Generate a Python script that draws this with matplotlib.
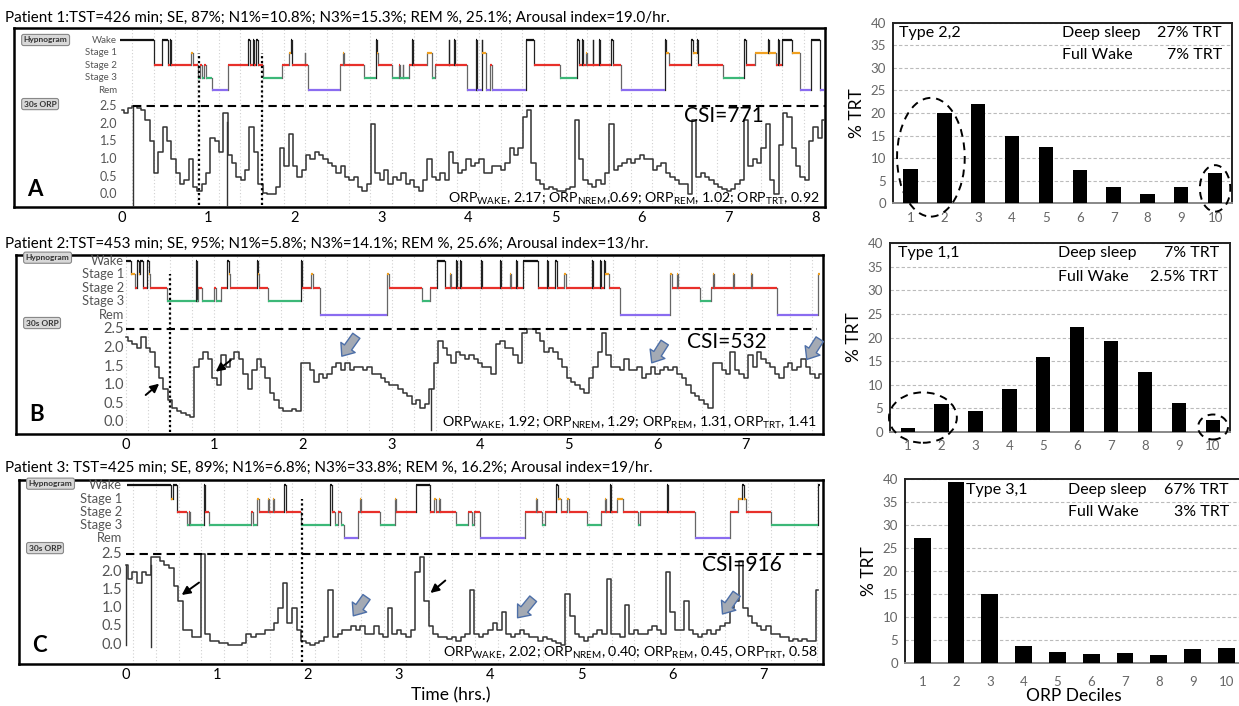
import numpy as np
import matplotlib.pyplot as plt
from matplotlib.patches import Ellipse

plt.rcParams['font.family'] = ['Lato', 'DejaVu Sans']
plt.rcParams['mathtext.fontset'] = 'custom'
plt.rcParams['mathtext.rm'] = 'Lato'
plt.rcParams['mathtext.it'] = 'Lato:italic'

# ---------------- data ----------------
titles = [
    "Patient 1:TST=426 min; SE, 87%; N1%=10.8%; N3%=15.3%; REM %, 25.1%; Arousal index=19.0/hr.",
    "Patient 2:TST=453 min; SE, 95%; N1%=5.8%; N3%=14.1%; REM %, 25.6%; Arousal index=13/hr.",
    "Patient 3: TST=425 min; SE, 89%; N1%=6.8%; N3%=33.8%; REM %, 16.2%; Arousal index=19/hr.",
]
csi_labels = ["CSI=771", "CSI=532", "CSI=916"]
orp_stats = [
    r"ORP$_{\mathrm{WAKE}}$, 2.17; ORP$_{\mathrm{NREM}}$,0.69; ORP$_{\mathrm{REM}}$, 1.02; ORP$_{\mathrm{TRT}}$, 0.92",
    r"ORP$_{\mathrm{WAKE}}$, 1.92; ORP$_{\mathrm{NREM}}$, 1.29; ORP$_{\mathrm{REM}}$, 1.31, ORP$_{\mathrm{TRT}}$, 1.41",
    r"ORP$_{\mathrm{WAKE}}$, 2.02; ORP$_{\mathrm{NREM}}$, 0.40; ORP$_{\mathrm{REM}}$, 0.45, ORP$_{\mathrm{TRT}}$, 0.58",
]

# hypnograms: (start hr, stage)
hyp_a = [(-0.02, 'W'), (0.37, '2'), (0.47, 'W'), (0.53, '2'), (0.56, 'W'), (0.57, '2'), (0.80, '1'),
         (0.82, '2'), (0.88, '3'), (0.91, '2'), (0.93, '3'), (0.95, '2'), (0.97, '3'), (1.04, 'R'),
         (1.23, '2'), (1.46, 'W'), (1.48, '2'), (1.51, 'W'), (1.53, '2'), (1.55, 'W'), (1.57, '2'),
         (1.63, '3'), (1.85, '2'), (1.93, '1'), (1.95, 'W'), (1.97, '2'), (2.11, '1'), (2.12, '2'),
         (2.15, 'R'), (2.52, '2'), (2.55, '1'), (2.57, '2'), (2.79, '3'), (2.93, 'W'), (2.95, '1'),
         (2.96, '2'), (3.12, '3'), (3.20, '2'), (3.21, '3'), (3.24, '2'), (3.25, '3'), (3.31, '2'),
         (3.35, 'W'), (3.36, '2'), (3.52, '1'), (3.58, '3'), (3.61, '2'), (3.77, 'W'), (3.78, '2'),
         (3.83, 'W'), (3.84, '2'), (3.98, 'R'), (4.09, 'W'), (4.10, 'R'), (4.15, 'W'), (4.16, '1'),
         (4.20, 'R'), (4.25, '2'), (4.27, 'R'), (4.66, 'W'), (4.76, '2'), (5.06, '3'), (5.25, 'W'),
         (5.27, '2'), (5.31, 'W'), (5.32, '2'), (5.36, '1'), (5.37, '2'), (5.43, 'W'), (5.44, '2'),
         (5.51, 'W'), (5.52, '2'), (5.64, 'W'), (5.67, '2'), (5.76, 'R'), (6.26, 'W'), (6.28, '1'),
         (6.31, '2'), (6.57, 'W'), (6.59, '1'), (6.63, 'W'), (6.65, '2'), (6.93, '3'), (7.18, 'W'),
         (7.20, '2'), (7.30, '1'), (7.45, 'W'), (7.47, '1'), (7.55, '2'), (7.57, 'W'), (7.58, '2'),
         (7.61, 'W'), (7.73, '1'), (7.82, 'R'), (7.95, 'W'), (8.05, 'R')]
hyp_b = [(0.0, 'W'), (0.06, '1'), (0.10, '2'), (0.13, 'W'), (0.15, '1'), (0.16, 'W'), (0.19, '2'),
         (0.24, 'W'), (0.26, '1'), (0.27, '2'), (0.46, '3'), (0.79, 'W'), (0.80, '3'), (0.81, '2'),
         (0.86, '3'), (1.00, '2'), (1.02, '3'), (1.07, '2'), (1.14, 'W'), (1.16, '1'), (1.18, '2'),
         (1.48, 'W'), (1.49, '1'), (1.50, '2'), (1.61, '3'), (1.98, 'W'), (1.99, '2'), (2.09, '1'),
         (2.11, '2'), (2.19, 'R'), (2.95, '1'), (2.97, '2'), (3.34, '3'), (3.43, '2'), (3.51, 'W'),
         (3.60, '2'), (3.66, '1'), (3.67, '2'), (3.73, 'W'), (3.74, '2'), (3.77, 'W'), (3.78, '2'),
         (4.01, 'W'), (4.02, '2'), (4.22, 'W'), (4.23, '2'), (4.34, '1'), (4.35, '2'), (4.41, 'W'),
         (4.42, '2'), (4.48, 'W'), (4.65, '2'), (4.75, 'W'), (4.76, '2'), (4.84, 'W'), (4.87, '2'),
         (4.95, '1'), (4.97, '2'), (5.26, 'W'), (5.27, '2'), (5.35, 'W'), (5.36, '2'), (5.40, 'W'),
         (5.41, '1'), (5.45, '2'), (5.58, 'R'), (6.14, '1'), (6.16, '2'), (6.22, '1'), (6.23, '2'),
         (6.48, '3'), (6.61, '2'), (6.63, '1'), (6.64, '2'), (6.85, '1'), (6.86, '2'), (7.06, '1'),
         (7.07, '2'), (7.35, 'R'), (7.81, '1')]
hyp_c = [(0.02, 'W'), (0.50, '1'), (0.52, 'W'), (0.56, '2'), (0.67, '3'), (0.70, '2'), (0.71, '3'),
         (0.86, 'W'), (0.87, '2'), (0.91, '3'), (1.37, '2'), (1.40, '3'), (1.44, '1'), (1.46, '2'),
         (1.56, '1'), (1.57, '2'), (1.62, '1'), (1.63, '2'), (1.74, 'W'), (1.76, '2'), (1.92, '3'),
         (2.24, 'W'), (2.26, '2'), (2.30, '3'), (2.33, '2'), (2.36, '3'), (2.40, 'R'), (2.55, '2'),
         (2.57, '1'), (2.58, '2'), (2.79, '3'), (2.95, '1'), (2.97, '2'), (3.19, 'W'), (3.34, '2'),
         (3.38, '1'), (3.40, '2'), (3.44, '1'), (3.45, '2'), (3.62, '3'), (3.76, '2'), (3.80, '3'),
         (3.82, '2'), (3.89, 'R'), (4.38, '2'), (4.50, '1'), (4.51, '2'), (4.57, '3'), (4.60, '2'),
         (4.72, 'W'), (4.74, '1'), (4.78, '2'), (4.84, '1'), (4.86, '2'), (5.06, '3'), (5.22, '2'),
         (5.26, '1'), (5.27, '2'), (5.31, 'W'), (5.32, '2'), (5.39, '1'), (5.46, '2'), (5.62, '3'),
         (5.64, '2'), (5.94, 'W'), (5.95, '2'), (6.25, 'R'), (6.63, '2'), (6.72, '1'), (6.76, 'W'),
         (6.78, '1'), (6.80, '2'), (7.08, '3'), (7.60, 'W')]
hyp_end = [8.10, 7.84, 7.62]

# 30 s ORP, read every 0.05 h from t = 0
orp_a = [2.4, 2.3, 2.45, 2.5, 2.45, 2.4, 2.1, 1.5, 0.6, 1.2, 1.9, 1.5, 1.0, 0.6, 0.3, 0.4, 1.0, 0.2,
         0.1, 0.3, 0.6, 1.6, 1.5, 1.2, 2.3, 1.1, 0.9, 0.5, 0.4, 0.7, 1.9, 1.2, 0.3, 0.05, 0.0, 0.0,
         0.2, 1.3, 0.8, 1.7, 0.8, 0.5, 0.7, 1.1, 1.0, 1.2, 1.1, 1.0, 0.9, 0.8, 0.6, 0.8, 0.5, 0.4,
         0.5, 0.2, 0.1, 0.3, 2.0, 0.6, 0.4, 0.7, 0.3, 0.5, 0.4, 0.6, 0.3, 0.4, 0.2, 0.1, 0.4, 1.0,
         0.5, 0.4, 0.6, 0.4, 1.2, 0.9, 0.6, 0.7, 1.0, 0.8, 0.9, 1.0, 0.6, 0.6, 0.8, 0.8, 0.7, 0.9,
         1.3, 1.1, 1.3, 2.2, 2.4, 0.9, 0.4, 0.3, 0.15, 0.2, 0.15, 0.1, 0.1, 0.15, 0.2, 2.1, 1.0,
         0.4, 0.3, 0.2, 0.4, 0.3, 0.6, 2.0, 0.7, 0.8, 0.9, 1.0, 0.9, 1.0, 1.1, 1.0, 1.0, 0.7, 0.8,
         0.9, 0.6, 0.5, 0.4, 0.3, 0.3, 0.0, 2.1, 0.5, 0.6, 0.5, 0.4, 0.3, 0.2, 0.15, 0.1, 0.15,
         0.3, 0.4, 2.1, 0.8, 1.0, 0.9, 1.3, 2.0, 0.4, 0.0, 1.4, 2.3, 2.2, 1.3, 0.8, 0.5, 0.4, 1.5,
         1.9, 1.6, 2.1]
orp_b = [2.3, 2.2, 2.1, 2.0, 2.3, 2.0, 1.9, 1.5, 1.2, 0.9, 0.6, 0.4, 0.3, 0.25, 0.2, 0.15, 1.5,
         1.7, 1.9, 1.7, 1.2, 1.0, 1.8, 1.5, 1.7, 1.9, 1.7, 1.3, 0.9, 1.4, 1.7, 1.5, 1.2, 0.8, 0.6,
         0.4, 0.3, 0.3, 0.35, 0.3, 1.6, 1.6, 1.4, 1.1, 1.3, 1.2, 1.3, 1.5, 1.6, 1.4, 1.6, 1.4, 1.5,
         1.5, 1.4, 1.5, 1.3, 1.3, 1.2, 1.1, 1.0, 1.0, 0.9, 0.8, 0.7, 0.5, 0.6, 0.4, 0.5, 0.9, 1.6,
         2.2, 2.0, 1.8, 1.6, 1.9, 1.8, 1.7, 1.8, 1.7, 1.6, 1.5, 1.5, 1.3, 2.1, 2.2, 2.0, 2.0, 1.8,
         1.6, 2.4, 2.5, 2.5, 2.4, 2.2, 1.9, 2.0, 1.9, 1.7, 1.5, 1.2, 1.1, 1.0, 0.9, 0.8, 1.2, 1.5,
         1.9, 2.4, 1.8, 1.5, 1.5, 1.4, 1.7, 1.4, 1.4, 1.5, 1.2, 1.3, 1.5, 1.3, 1.4, 1.5, 1.4, 1.5,
         1.3, 1.2, 1.0, 0.8, 0.7, 0.6, 0.5, 0.4, 1.6, 1.6, 1.4, 1.3, 1.9, 1.4, 1.3, 1.2, 1.8, 1.5,
         1.9, 1.7, 1.6, 1.5, 1.3, 1.2, 1.5, 1.6, 1.4, 1.5, 1.7, 1.5, 1.3, 1.2, 1.3]
orp_c = [2.2, 1.8, 2.0, 1.7, 2.0, 1.9, 2.4, 2.4, 2.3, 2.2, 2.1, 1.6, 1.2, 0.4, 0.4, 0.2, 0.2, 2.5,
         0.3, 0.1, 0.1, 0.05, 0.05, 0.0, 0.0, 0.0, 0.05, 0.3, 0.2, 0.3, 0.3, 0.4, 0.4, 0.6, 1.0,
         1.7, 0.6, 1.0, 0.4, 0.1, 0.05, 0.0, 0.05, 0.1, 0.2, 1.5, 0.2, 0.3, 0.4, 0.4, 0.5, 0.4, 0.5,
         0.3, 0.3, 0.5, 0.3, 0.2, 1.0, 0.3, 0.4, 0.3, 0.2, 0.4, 2.0, 2.4, 1.2, 0.5, 0.3, 0.2, 0.2,
         0.15, 0.2, 0.1, 0.2, 0.3, 1.5, 0.3, 0.2, 0.3, 0.4, 0.6, 0.4, 0.9, 0.3, 0.2, 0.3, 0.4, 0.3,
         0.2, 0.2, 0.1, 0.2, 0.15, 0.1, 0.05, 0.0, 1.4, 0.8, 0.3, 0.2, 0.1, 0.2, 0.3, 0.4, 0.3, 1.8,
         0.3, 0.3, 0.2, 1.1, 0.3, 0.4, 0.3, 0.3, 0.4, 0.5, 0.4, 0.3, 2.0, 0.9, 0.4, 0.4, 1.2, 0.4,
         0.3, 0.2, 0.3, 0.4, 0.3, 0.4, 0.5, 0.6, 1.0, 1.2, 2.3, 1.0, 0.8, 0.6, 0.5, 0.4, 0.5, 0.3,
         0.3, 0.2, 0.2, 0.1, 0.15, 0.1, 0.15, 0.1, 0.1, 1.5]
orp_step = 0.05

# signal drop-outs (hr, lowest value) and scoring markers (hr)
drops = [[(0.13, -0.36), (1.21, -0.36)], [(3.45, -0.2)], [(0.0, 0.0), (0.28, -0.05)]]
marks = [[0.89, 1.62], [0.50], [1.93]]

# arrows: (tail hr, tail ORP, head hr, head ORP)
black_arrows = [[], [(0.20, 0.69, 0.40, 1.09), (1.21, 1.72, 0.99, 1.32)],
                [(0.83, 1.75, 0.59, 1.32), (3.53, 1.81, 3.32, 1.37)]]
block_arrows = [[], [(2.62, 2.39, 2.42, 1.72), (6.10, 2.21, 5.92, 1.54), (7.85, 2.30, 7.67, 1.63)],
                [(2.66, 1.37, 2.48, 0.73), (4.49, 1.32, 4.28, 0.68), (6.72, 1.46, 6.53, 0.78)]]

# ORP decile histograms
deciles = list(range(1, 11))
pct_a = [7.5, 20.1, 22.0, 14.8, 12.5, 7.4, 3.5, 2.0, 3.7, 6.8]
pct_b = [0.8, 5.8, 4.4, 9.0, 15.8, 22.3, 19.3, 12.7, 6.1, 2.4]
pct_c = [27.1, 39.3, 15.0, 3.8, 2.5, 2.0, 2.2, 1.8, 3.0, 3.3]
types = ["Type 2,2", "Type 1,1", "Type 3,1"]
deep_sleep = ["27% TRT", "7% TRT", "67% TRT"]
full_wake = ["7% TRT", "2.5% TRT", "3% TRT"]
# dashed circles (decile, %TRT, width, height)
circles = [[(1.6, 10.2, 2.0, 26.3), (10.0, 3.3, 0.9, 10.3)],
           [(1.45, 3.0, 2.0, 10.7), (10.0, 1.0, 0.88, 5.3)], []]

# ---------------- layout ----------------
W, H = 1239, 706
fig = plt.figure(figsize=(W / 100, H / 100), dpi=100)


def rect(l, t, r, b):
    return [l / W, 1 - b / H, (r - l) / W, (b - t) / H]


night_rects = [rect(14, 28, 825, 207), rect(16, 255, 823, 434), rect(19, 480, 823, 664)]
night_xlim = [(-1.24, 8.11), (-1.24, 7.87), (-1.17, 7.65)]
night_ylim = [(-0.36, 4.71), (-0.31, 4.50), (-0.53, 4.52)]
rem_level = [2.95, 2.90, 2.92]
stage_step = [0.355, 0.36, 0.363]
label_x = [-0.05, -0.02, -0.04]
grid_start = [0.12, 0.0, 0.08]
title_y = [18, 244, 468]
csi_pos = [(6.49, 2.23), (6.33, 2.15), (6.32, 2.18)]
stat_pos = [(8.05, -0.12), (7.80, 0.0), (7.59, -0.22)]
dash_span = [(0.13, 8.11), (0.0, 7.80), (0.0, 7.65)]
btn_y = [(0.933, 0.575), (0.985, 0.62), (0.98, 0.63)]
letter_y = [0.095, 0.109, 0.10]
stage_fs = [7, 9.3, 9.3]
orp_fs = [9, 10.5, 10.5]

STAGES = ['W', '1', '2', '3', 'R']
STAGE_NAMES = ['Wake', 'Stage 1', 'Stage 2', 'Stage 3', 'Rem']
STAGE_COL = {'W': '#111111', '1': '#f0a020', '2': '#e8302a', '3': '#3cb878', 'R': '#8a6cf0'}

hyps = [hyp_a, hyp_b, hyp_c]
orps = [orp_a, orp_b, orp_c]

for k in range(3):
    ax = fig.add_axes(night_rects[k])
    ax.set_xlim(*night_xlim[k])
    ax.set_ylim(*night_ylim[k])
    lev = {s: rem_level[k] + stage_step[k] * (4 - i) for i, s in enumerate(STAGES)}

    for gx in np.arange(grid_start[k], night_xlim[k][1], 0.25):
        ax.axvline(gx, color='#d0d0d0', lw=0.8, ls=(0, (1, 2)), zorder=0)

    # hypnogram
    segs = hyps[k]
    starts = [s[0] for s in segs]
    ends = starts[1:] + [hyp_end[k]]
    for i, (t0, t1, (_, st)) in enumerate(zip(starts, ends, segs)):
        ax.plot([t0, t1], [lev[st], lev[st]], color=STAGE_COL[st], lw=1.6,
                solid_capstyle='butt', zorder=3)
        if i + 1 < len(segs):
            nxt = segs[i + 1][1]
            c = '#222222' if 'W' in (st, nxt) else '#666666'
            ax.plot([t1, t1], [lev[st], lev[nxt]], color=c, lw=0.9, zorder=2)

    # ORP trace
    tt = np.arange(len(orps[k])) * orp_step
    ax.plot(tt, orps[k], drawstyle='steps-mid', color='#333333', lw=1.1, zorder=3)
    for t, lo in drops[k]:
        ax.plot([t, t], [lo, np.interp(t, tt, orps[k])], color='#333333', lw=1.0, zorder=3)
    for t in marks[k]:
        ax.plot([t, t], [night_ylim[k][0] + 0.05, lev['1']], color='black', lw=1.6,
                ls=(0, (1, 1.2)), zorder=4)
    ax.plot(dash_span[k], [2.5, 2.5], color='black', lw=1.5, ls=(0, (4, 2.5)), zorder=4)

    # y labels
    for i, s in enumerate(STAGES):
        ax.text(label_x[k], lev[s], STAGE_NAMES[i], ha='right', va='center',
                fontsize=stage_fs[k], color='#555555')
    for v in [0.0, 0.5, 1.0, 1.5, 2.0, 2.5]:
        ax.text(label_x[k], v, f"{v:.1f}", ha='right', va='center',
                fontsize=orp_fs[k], color='#555555')

    # x axis
    ax.set_xticks(range(0, int(night_xlim[k][1]) + 1))
    ax.tick_params(axis='x', length=0, pad=3, labelsize=10.5)
    ax.set_yticks([])
    for sp in ax.spines.values():
        sp.set_linewidth(1.8)

    for tail_t, tail_v, head_t, head_v in black_arrows[k]:
        ax.annotate('', xy=(head_t, head_v), xytext=(tail_t, tail_v),
                    arrowprops=dict(arrowstyle='-|>,head_length=0.5,head_width=0.25',
                                    color='black', lw=1.4), zorder=6)
    for tail_t, tail_v, head_t, head_v in block_arrows[k]:
        ax.annotate('', xy=(head_t, head_v), xytext=(tail_t, tail_v),
                    arrowprops=dict(arrowstyle='simple,head_length=0.55,head_width=0.9,tail_width=0.45',
                                    fc='#a4aab4', ec='#4d6fa8', lw=1.0, mutation_scale=14), zorder=6)

    ax.text(*csi_pos[k], csi_labels[k], fontsize=15, ha='left', va='center', zorder=7)
    ax.text(*stat_pos[k], orp_stats[k], fontsize=10.2, ha='right', va='center', zorder=7)
    ax.text(0.012, btn_y[k][0], 'Hypnogram', transform=ax.transAxes, fontsize=6, weight='bold',
            va='center', color='#333333',
            bbox=dict(boxstyle='round,pad=0.25', fc='#d8d8d8', ec='#888888', lw=0.8))
    ax.text(0.012, btn_y[k][1], '30s ORP', transform=ax.transAxes, fontsize=6, weight='bold',
            va='center', color='#333333',
            bbox=dict(boxstyle='round,pad=0.25', fc='#d8d8d8', ec='#888888', lw=0.8))
    ax.text(0.026, letter_y[k], 'ABC'[k], transform=ax.transAxes, fontsize=16, weight='bold',
            ha='center', va='center')

    fig.text(5 / W, 1 - title_y[k] / H, titles[k], fontsize=10.9, ha='left', va='center')

fig.text(451 / W, 1 - 695 / H, 'Time (hrs.)', fontsize=12.5, ha='center', va='center')

# ---------------- decile histograms ----------------
bar_rects = [rect(893, 22.7, 1232, 203.3), rect(890, 243.3, 1230, 431.7), rect(905, 479, 1243, 663.3)]
bar_xlim = [(0.48, 10.5), (0.48, 10.5), (0.49, 10.49)]
bar_w = [0.42, 0.42, 0.5]
bar_pad = [6, 6, 9]
type_x = [0.018, 0.024, 0.179]
deep_left = [0.50, 0.494, 0.482]
val_right = [0.97, 0.967, 0.958]
line_y = [(0.945, 0.821), (0.949, 0.821), (0.94, 0.821)]
pcts = [pct_a, pct_b, pct_c]

for k in range(3):
    ax = fig.add_axes(bar_rects[k])
    ax.bar(deciles, pcts[k], width=bar_w[k], color='black', zorder=3)
    ax.set_xlim(*bar_xlim[k])
    ax.set_ylim(0, 40)
    ax.set_yticks(range(0, 41, 5))
    ax.set_xticks(deciles)
    ax.yaxis.grid(True, color='#bbbbbb', lw=0.8, ls=(0, (3, 2)))
    ax.set_axisbelow(True)
    ax.tick_params(length=0, labelsize=9.5, labelcolor='#666666')
    ax.tick_params(axis='y', pad=5)
    ax.tick_params(axis='x', pad=bar_pad[k])
    for sp in ax.spines.values():
        sp.set_linewidth(1.4)
        sp.set_color('#222222')
    ax.spines['bottom'].set_color('#888888')
    ax.set_ylabel('% TRT', fontsize=12.5, labelpad=4)
    ax.text(type_x[k], line_y[k][0], types[k], transform=ax.transAxes, fontsize=11.5,
            ha='left', va='center')
    ax.text(deep_left[k], line_y[k][0], 'Deep sleep', transform=ax.transAxes, fontsize=11.5,
            ha='left', va='center')
    ax.text(val_right[k], line_y[k][0], deep_sleep[k], transform=ax.transAxes, fontsize=11.5,
            ha='right', va='center')
    ax.text(deep_left[k], line_y[k][1], 'Full Wake', transform=ax.transAxes, fontsize=11.5,
            ha='left', va='center')
    ax.text(val_right[k], line_y[k][1], full_wake[k], transform=ax.transAxes, fontsize=11.5,
            ha='right', va='center')
    for cx, cy, ew, eh in circles[k]:
        ax.add_patch(Ellipse((cx, cy), ew, eh, fill=False, ec='black', lw=1.4,
                             ls=(0, (4, 3)), clip_on=False, zorder=5))
    if k == 2:
        ax.set_xlabel('ORP Deciles', fontsize=12.5, labelpad=0)

fig.savefig('out.png', dpi=100)
